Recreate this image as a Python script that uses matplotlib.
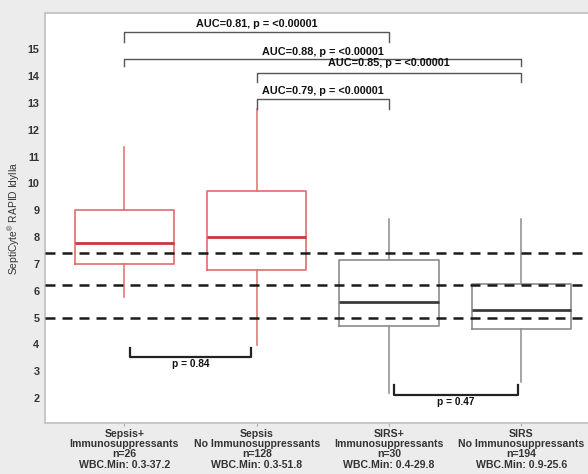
import matplotlib
matplotlib.use("Agg")
import matplotlib.pyplot as plt

plt.rcParams['font.family'] = ['Liberation Sans', 'DejaVu Sans']
plt.rcParams['mathtext.fontset'] = 'custom'
plt.rcParams['mathtext.rm'] = 'Liberation Sans'
plt.rcParams['mathtext.it'] = 'Liberation Sans'

# box stats per group
groups = ["Sepsis+\nImmunosuppressants\nn=26\nWBC.Min: 0.3-37.2",
          "Sepsis\nNo Immunosuppressants\nn=128\nWBC.Min: 0.3-51.8",
          "SIRS+\nImmunosuppressants\nn=30\nWBC.Min: 0.4-29.8",
          "SIRS\nNo Immunosuppressants\nn=194\nWBC.Min: 0.9-25.6"]
whislo = [5.78, 3.98, 2.19, 2.58]
q1 = [6.99, 6.78, 4.67, 4.57]
med = [7.79, 7.99, 5.57, 5.29]
q3 = [9.0, 9.72, 7.14, 6.24]
whishi = [11.36, 12.76, 8.67, 8.67]
is_sepsis = [True, True, False, False]

cutoffs = [7.4, 6.2, 5.0]

# top brackets
top_x1 = [1, 1, 2, 2]
top_x2 = [3, 4, 4, 3]
top_y = [15.64, 14.63, 14.12, 13.13]
top_drop = [0.37, 0.25, 0.34, 0.34]
top_text_y = [15.93, 14.90, 14.47, 13.45]
top_labels = ["AUC=0.81, p = <0.00001", "AUC=0.88, p = <0.00001",
              "AUC=0.85, p = <0.00001", "AUC=0.79, p = <0.00001"]

# bottom brackets
bot_x1 = [1.04, 3.04]
bot_x2 = [1.96, 3.97]
bot_y = [3.53, 2.13]
bot_rise = [0.35, 0.36]
bot_text_y = [3.27, 1.85]
bot_labels = ["p = 0.84", "p = 0.47"]

fig = plt.figure(figsize=(5.88, 4.74), dpi=100, facecolor='#ececec')
ax = fig.add_axes([45/588, 51/474, 1.01 - 45/588, 410/474])
ax.set_facecolor('white')

positions = [1, 2, 3, 4]
for i in range(4):
    st = [dict(whislo=whislo[i], q1=q1[i], med=med[i], q3=q3[i], whishi=whishi[i], fliers=[])]
    if is_sepsis[i]:
        edge, mcol = '#e06c6c', '#c9373a'
    else:
        edge, mcol = '#8c8c8c', '#3c3c3c'
    ax.bxp(st, positions=[positions[i]], widths=0.75, showcaps=False, patch_artist=False,
           boxprops=dict(color=edge, lw=1.2),
           whiskerprops=dict(color=edge, lw=1.1),
           medianprops=dict(color=mcol, lw=2.0),
           manage_ticks=False)

for c in cutoffs:
    ax.axhline(c, color='#1a1a1a', lw=1.8, ls=(0, (4, 2.8)), zorder=5)

for i in range(len(top_labels)):
    x1, x2, y = top_x1[i], top_x2[i], top_y[i]
    ax.plot([x1, x1, x2, x2], [y - top_drop[i], y, y, y - top_drop[i]], color='#555555', lw=1.0)
    ax.text((x1 + x2) / 2, top_text_y[i], top_labels[i], ha='center', va='center',
            fontsize=7.8, fontweight='bold', color='#111111')

for i in range(len(bot_labels)):
    x1, x2, y = bot_x1[i], bot_x2[i], bot_y[i]
    ax.plot([x1, x1, x2, x2], [y + bot_rise[i], y, y, y + bot_rise[i]], color='#222222', lw=1.6)
    ax.text((x1 + x2) / 2, bot_text_y[i], bot_labels[i], ha='center', va='center',
            fontsize=7.3, fontweight='bold', color='#111111')

ax.set_xlim(0.4, 4.547)
ax.set_ylim(1.07, 16.35)
ax.set_yticks(range(2, 16))
ax.set_yticklabels([str(v) for v in range(2, 16)], fontsize=7.8, fontweight='bold', color='#333333')
ax.set_xticks(positions)
ax.set_xticklabels(groups, fontsize=7.6, fontweight='bold', color='#333333', linespacing=1.04)
ax.tick_params(axis='y', length=0, pad=4)
ax.tick_params(axis='x', length=2.5, color='#aaaaaa', pad=1.5)
for s in ax.spines.values():
    s.set_color('#c4c4c4')
    s.set_linewidth(1.3)

ax.set_ylabel(r'SeptiCyte$^{®}$ RAPID Idylla', fontsize=7.4, color='#333333', labelpad=4)

fig.savefig('out.png', dpi=100, facecolor=fig.get_facecolor())
